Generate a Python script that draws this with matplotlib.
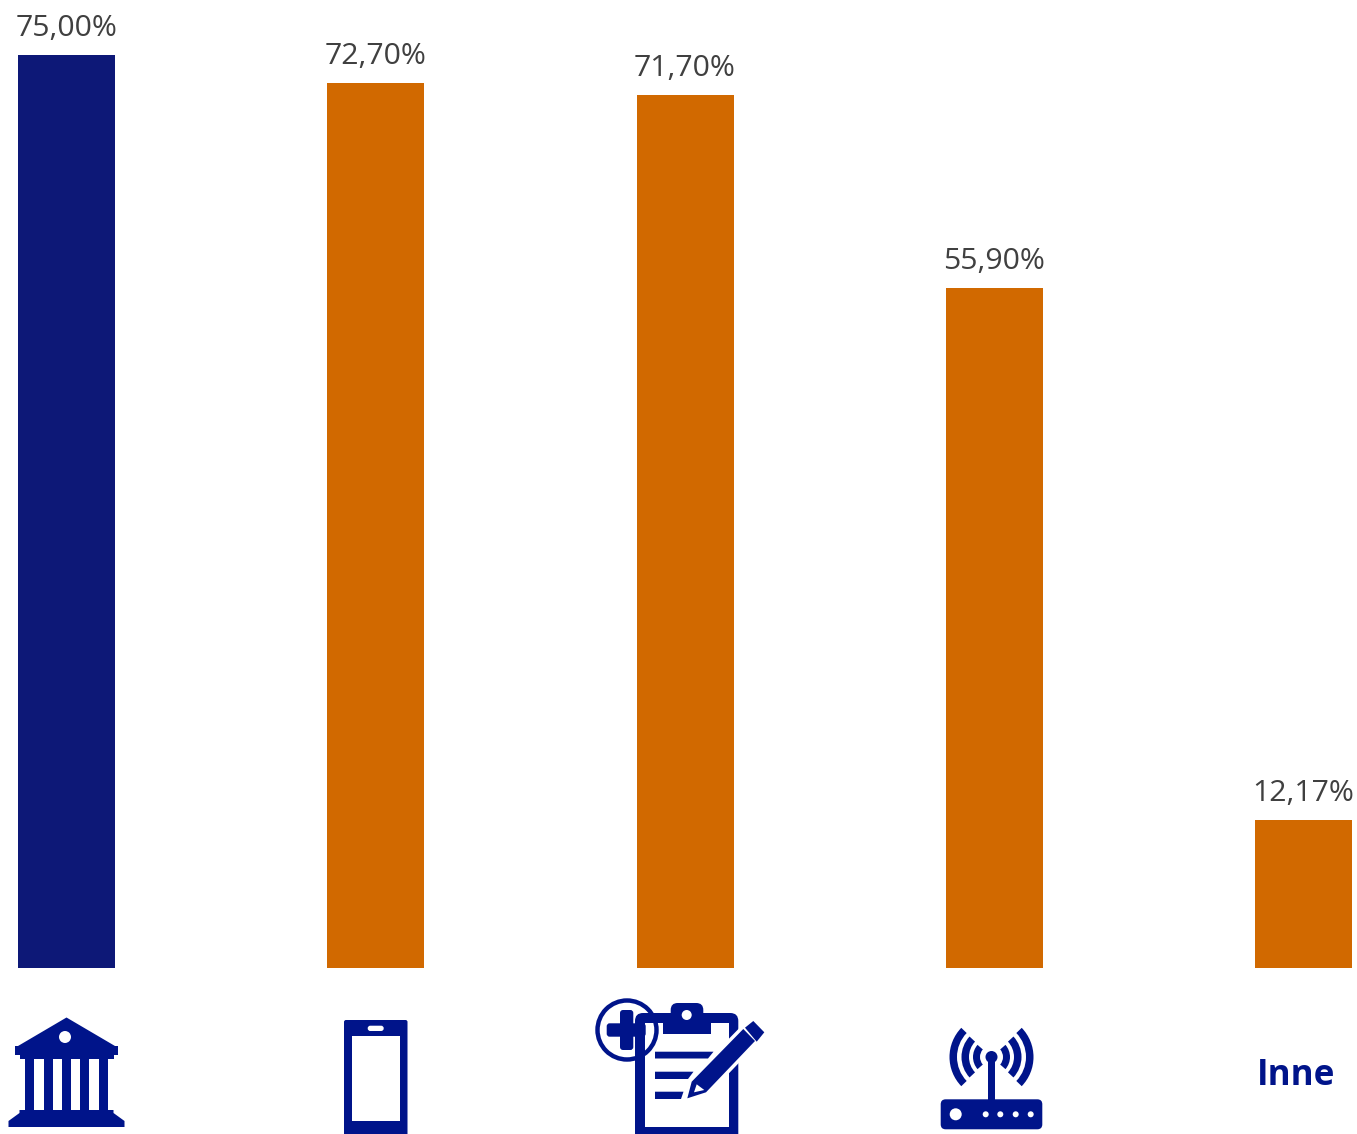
import matplotlib
matplotlib.use('Agg')
import matplotlib.pyplot as plt
from matplotlib.patches import Circle, FancyBboxPatch, Polygon, Rectangle, Wedge

valores = [75.00, 72.70, 71.70, 55.90, 12.17]
etiquetas = ['75,00%', '72,70%', '71,70%', '55,90%', '12,17%']
colores = ['#0D1877', '#D16900', '#D16900', '#D16900', '#D16900']
posiciones = [0, 1, 2, 3, 4]
otro = 'Inne'

AZUL = '#00148A'
W, H = 1357, 1134

plt.rcParams['font.family'] = ['Open Sans', 'DejaVu Sans']
fig = plt.figure(figsize=(W / 100, H / 100), dpi=100)

# ejes de las barras, ocupan toda la figura
ax = fig.add_axes([0, 0, 1, 1])
paso = 309.25
esc = 12.173
ax.set_xlim(-66.5 / paso, (W - 66.5) / paso)
ax.set_ylim(-(H - 968) / esc, 968 / esc)
ax.axis('off')
ax.bar(posiciones, valores, width=97 / paso, color=colores)
for x, v, t in zip(posiciones, valores, etiquetas):
    ax.annotate(t, (x, v), xytext=(0, 13.7), textcoords='offset points',
                ha='center', va='baseline', fontsize=21.8, color='#404040')

# iconos de abajo, en pixeles
ic = fig.add_axes([0, 0, 1, 1])
ic.set_xlim(0, W)
ic.set_ylim(H, 0)
ic.axis('off')


def rect(x0, y0, x1, y1, c=AZUL):
    ic.add_patch(Rectangle((x0, y0), x1 - x0, y1 - y0, fc=c, ec='none'))


def redondo(x0, y0, x1, y1, r, c=AZUL):
    ic.add_patch(FancyBboxPatch((x0 + r, y0 + r), x1 - x0 - 2 * r, y1 - y0 - 2 * r,
                                boxstyle='round,pad=%s,rounding_size=%s' % (r, r),
                                fc=c, ec='none'))


def circulo(x, y, r, c=AZUL):
    ic.add_patch(Circle((x, y), r, fc=c, ec='none'))


def poli(pts, c=AZUL, **kw):
    ic.add_patch(Polygon(pts, closed=True, fc=c, ec=kw.get('ec', 'none'), lw=kw.get('lw', 0)))


# banco
poli([(66.5, 1017.5), (115, 1046), (18, 1046)])
rect(15, 1046, 118, 1055)
rect(19.5, 1055, 114, 1058.5)
for x0 in [25.3, 43.7, 62, 80.3, 98.7]:
    rect(x0, 1058, x0 + 9, 1111)
poli([(19.5, 1110), (113.5, 1110), (113.5, 1113), (124.5, 1121), (124.5, 1127),
      (8.5, 1127), (8.5, 1121), (19.5, 1113)])
circulo(65, 1037, 6, 'white')

# telefono
redondo(344, 1020, 407.5, 1150, 2)
rect(351.7, 1036, 399.7, 1120.7, 'white')
redondo(367.7, 1025.7, 383.7, 1031, 2.6, 'white')

# portapapeles
redondo(635, 1013, 738.3, 1150, 8)
rect(645, 1023.3, 729, 1126.7, 'white')
redondo(670.7, 1003, 703.3, 1020, 7)
rect(663.3, 1013, 710.7, 1033.5)
circulo(686.7, 1015, 5, 'white')
poli([(655, 1051.7), (713.5, 1051.7), (708, 1058.5), (655, 1058.5)])
poli([(655, 1071.7), (693.5, 1071.7), (688, 1079), (655, 1079)])
poli([(655, 1091.7), (683.5, 1091.7), (681, 1099), (655, 1099)])
lapiz = [(687.3, 1098.3), (691.7, 1081.7), (743.3, 1029), (755, 1041), (706, 1092.3)]
poli(lapiz, 'white', ec='white', lw=5)
poli(lapiz)
poli([(745, 1027.7), (753.3, 1021), (764.3, 1032.3), (756.7, 1041.7)])
poli([(694, 1092.3), (696.7, 1084.3), (704.3, 1090)], 'white')
# el aro no tapa la tabla, se ve por dentro
ic.add_patch(Circle((627, 1030), 29.5, fc='none', ec=AZUL, lw=3.2))
redondo(606.7, 1023.3, 645.7, 1036.7, 3)
redondo(620, 1010, 633.3, 1050, 3)

# router
redondo(940.7, 1099.3, 1042.3, 1129.3, 5)
circulo(955.7, 1114.3, 6, 'white')
for x in [985.7, 1000.3, 1015.7, 1030.7]:
    circulo(x, 1114.3, 3, 'white')
rect(988.3, 1057, 994.7, 1100)
circulo(991.5, 1057, 6)
for r, ancho, ang in [(18.5, 7, 41), (30, 7.5, 43), (42, 7.5, 44)]:
    ic.add_patch(Wedge((991.5, 1057), r, -ang, ang, width=ancho, fc=AZUL, ec='none'))
    ic.add_patch(Wedge((991.5, 1057), r, 180 - ang, 180 + ang, width=ancho, fc=AZUL, ec='none'))

ic.text(1296.5, 1085, otro, ha='center', va='baseline', fontsize=25.2,
        fontweight='bold', color=AZUL)

plt.savefig('out.png', dpi=100)
